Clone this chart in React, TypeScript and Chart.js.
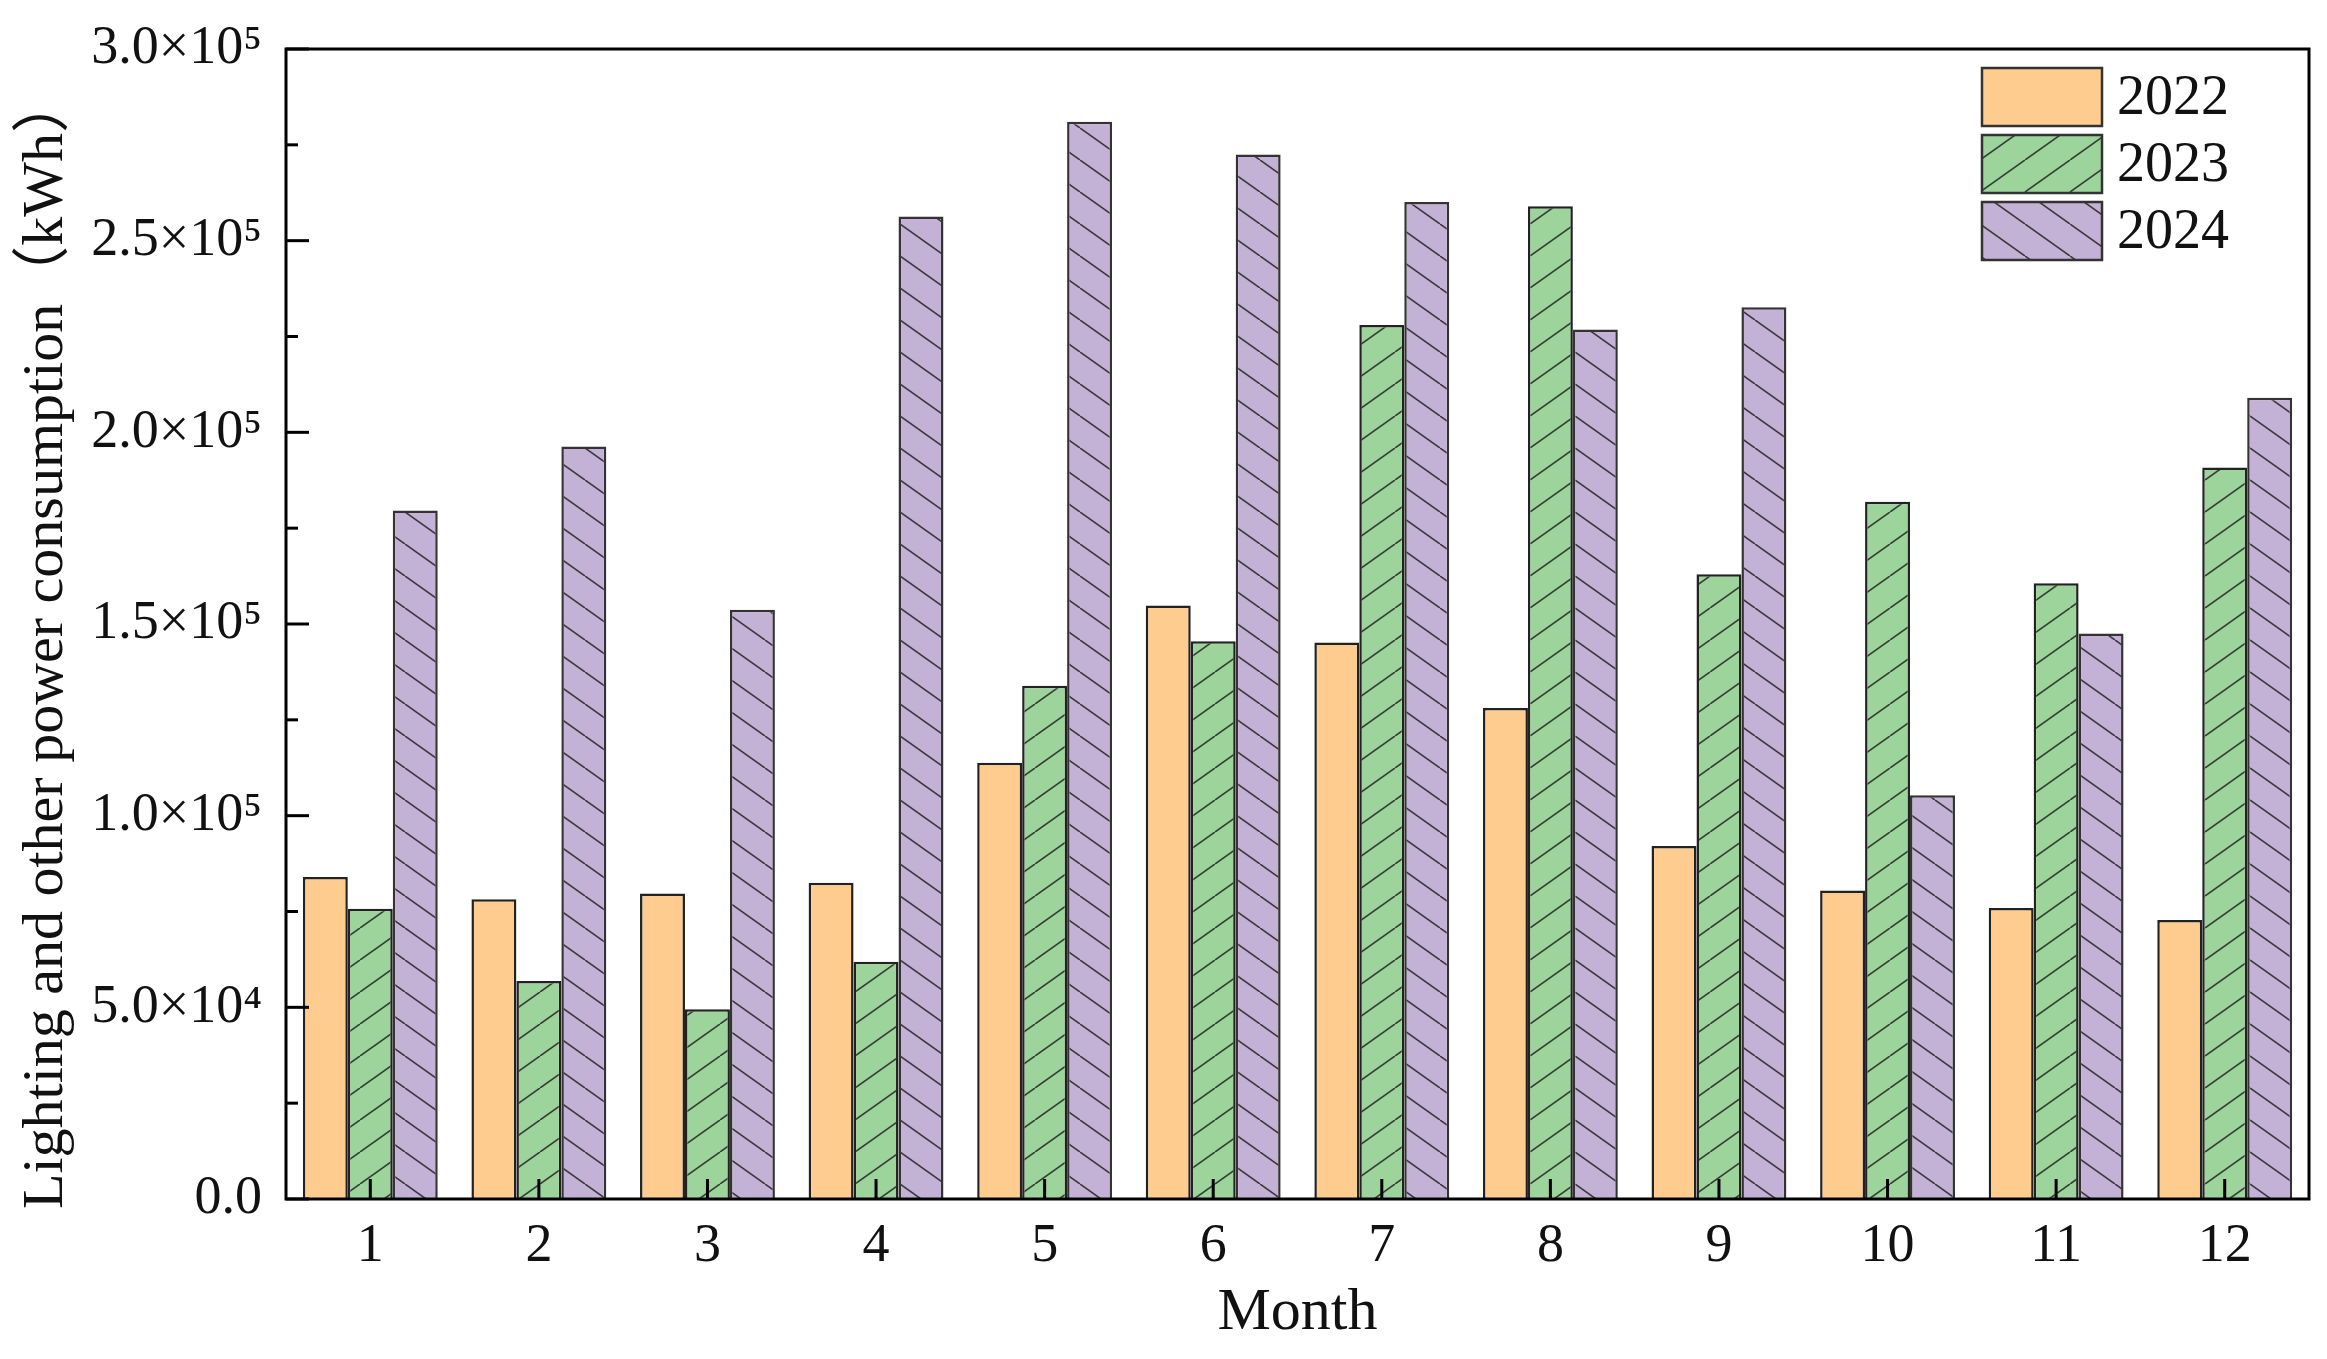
import React, { useEffect, useRef } from "react";
import { Chart, registerables } from "chart.js";

Chart.register(...registerables);

const months = ["1", "2", "3", "4", "5", "6", "7", "8", "9", "10", "11", "12"];
const seriesLabels = ["2022", "2023", "2024"];
const values2022 = [84000, 78200, 79700, 82500, 113800, 154800, 145200, 128100, 92100, 80500, 75900, 72800];
const values2023 = [75700, 56900, 49500, 61900, 133900, 145500, 228000, 259000, 163000, 181900, 160600, 190800];
const values2024 = [179600, 196300, 153700, 256300, 281000, 272500, 260100, 226800, 232600, 105300, 147500, 209000];
const yTickValues = [0, 50000, 100000, 150000, 200000, 250000, 300000];
const yTitle = "Lighting and other power consumption（kWh）";
const xTitle = "Month";

const FONT = "'Liberation Serif', 'Times New Roman', 'Noto Sans CJK SC', serif";
const SUP: Record<string, string> = { "0": "⁰", "1": "¹", "2": "²", "3": "³", "4": "⁴", "5": "⁵", "6": "⁶", "7": "⁷", "8": "⁸", "9": "⁹" };

function fmtSci(v: number): string {
  if (v === 0) return "0.0";
  const e = Math.floor(Math.log10(v));
  const m = v / Math.pow(10, e);
  return m.toFixed(1) + "×10" + String(e).split("").map((c) => SUP[c]).join("");
}

function makeHatch(bg: string, dir: "/" | "\\"): CanvasPattern | string {
  const w = 45, h = 32;
  const c = document.createElement("canvas");
  c.width = w; c.height = h;
  const g = c.getContext("2d");
  if (!g) return bg;
  g.fillStyle = bg;
  g.fillRect(0, 0, w, h);
  g.strokeStyle = "rgba(35,35,35,0.85)";
  g.lineWidth = 1.6;
  for (const off of [-w, 0, w]) {
    g.beginPath();
    if (dir === "/") {
      g.moveTo(off, h);
      g.lineTo(off + w, 0);
    } else {
      g.moveTo(off, 0);
      g.lineTo(off + w, h);
    }
    g.stroke();
  }
  const p = g.createPattern(c, "repeat");
  return p || bg;
}

const framePlugin = {
  id: "framePlugin",
  afterDatasetsDraw(chart: any) {
    const { ctx, chartArea, scales } = chart;
    const { left, right, top, bottom } = chartArea;
    ctx.save();
    ctx.strokeStyle = "#000";
    ctx.lineWidth = 3;
    const xs = scales.x;
    xs.ticks.forEach((_t: any, i: number) => {
      const px = xs.getPixelForTick(i);
      ctx.beginPath();
      ctx.moveTo(px, bottom);
      ctx.lineTo(px, bottom - 20);
      ctx.stroke();
    });
    const ys = scales.y;
    const tv: number[] = ys.ticks.map((t: any) => t.value);
    tv.forEach((v: number, i: number) => {
      const py = ys.getPixelForValue(v);
      ctx.beginPath();
      ctx.moveTo(left, py);
      ctx.lineTo(left + 23, py);
      ctx.stroke();
      if (i < tv.length - 1) {
        const pm = ys.getPixelForValue((v + tv[i + 1]) / 2);
        ctx.beginPath();
        ctx.moveTo(left, pm);
        ctx.lineTo(left + 12, pm);
        ctx.stroke();
      }
    });
    ctx.strokeRect(left, top, right - left, bottom - top);
    ctx.restore();
  },
  afterDraw(chart: any) {
    const { ctx, chartArea } = chart;
    const { right, top, bottom } = chartArea;
    ctx.save();
    chart.data.datasets.forEach((ds: any, i: number) => {
      const x = right - 327;
      const y = top + 19 + 67 * i;
      ctx.fillStyle = ds.backgroundColor;
      ctx.fillRect(x, y, 120, 58);
      ctx.strokeStyle = "#333";
      ctx.lineWidth = 2.5;
      ctx.strokeRect(x, y, 120, 58);
      ctx.fillStyle = "#111";
      ctx.font = `56px ${FONT}`;
      ctx.textBaseline = "middle";
      ctx.textAlign = "left";
      ctx.fillText(ds.label, x + 135, y + 31);
    });
    // y-axis title
    ctx.translate(47, (top + bottom) / 2 + 18);
    ctx.rotate(-Math.PI / 2);
    ctx.fillStyle = "#111";
    ctx.font = `58px ${FONT}`;
    ctx.textAlign = "center";
    ctx.textBaseline = "middle";
    ctx.fillText(yTitle, 0, 0);
    ctx.restore();
  },
};

function zeroPad(s: any) {
  s.paddingTop = 0;
  s.paddingBottom = 0;
  s.paddingLeft = 0;
  s.paddingRight = 0;
}

export default function App() {
  const ref = useRef<HTMLCanvasElement | null>(null);
  useEffect(() => {
    if (!ref.current) return;
    const chart = new Chart(ref.current, {
      type: "bar",
      data: {
        labels: months,
        datasets: [
          { label: seriesLabels[0], data: values2022, backgroundColor: "#FFCC90", borderColor: "#222", borderWidth: 2.5 },
          { label: seriesLabels[1], data: values2023, backgroundColor: makeHatch("#9CD49B", "/") as any, borderColor: "#222", borderWidth: 2.5 },
          { label: seriesLabels[2], data: values2024, backgroundColor: makeHatch("#C4B2D6", "\\") as any, borderColor: "#333", borderWidth: 2.5 },
        ],
      },
      options: {
        animation: false,
        responsive: true,
        maintainAspectRatio: false,
        layout: { padding: { top: 49, right: 18, left: 0, bottom: 0 } },
        datasets: { bar: { categoryPercentage: 0.8, barPercentage: 1.0 } },
        plugins: { legend: { display: false }, tooltip: { enabled: false } },
        scales: {
          x: {
            grid: { display: false, drawTicks: false },
            border: { display: false },
            ticks: { color: "#111", font: { family: FONT, size: 54 }, padding: 15 },
            title: { display: true, text: xTitle, color: "#111", font: { family: FONT, size: 60 }, padding: { top: 0, bottom: 10 } },
            afterFit: (s: any) => { s.height = 160; zeroPad(s); },
          },
          y: {
            min: 0,
            max: 300000,
            afterBuildTicks: (s: any) => { s.ticks = yTickValues.map((v) => ({ value: v })); },
            grid: { display: false, drawTicks: false },
            border: { display: false },
            ticks: { color: "#111", font: { family: FONT, size: 54 }, padding: 24, callback: (v: any) => fmtSci(Number(v)) },
            title: { display: false },
            afterFit: (s: any) => { s.width = 286; zeroPad(s); },
          },
        },
      },
      plugins: [framePlugin],
    });
    return () => chart.destroy();
  }, []);
  return (
    <div style={{ position: "fixed", left: 0, top: 0, width: 2327, height: 1359, background: "#fff" }}>
      <canvas ref={ref} />
    </div>
  );
}
